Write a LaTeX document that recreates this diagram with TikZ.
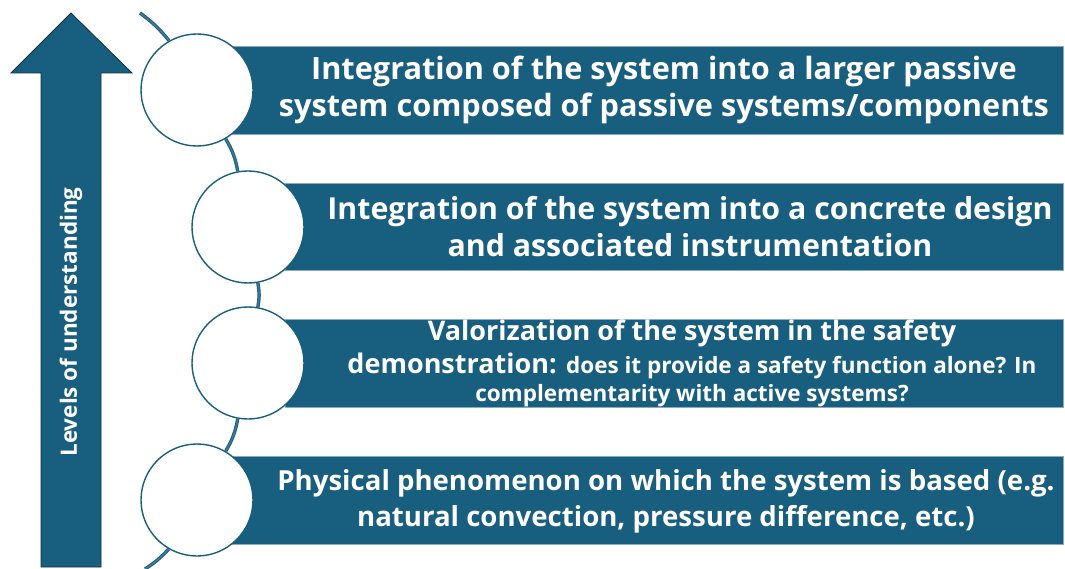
\documentclass[tikz,border=0pt]{standalone}
\usepackage{fontspec}
\setmainfont{Open Sans}
\definecolor{barblue}{RGB}{24,94,126}
\definecolor{edgeblue}{RGB}{14,48,66}
\definecolor{rimblue}{RGB}{140,170,190}
\definecolor{linkmid}{RGB}{70,120,150}
\begin{document}
\begin{tikzpicture}[x=1pt,y=-1pt,
  levelbar/.style={fill=barblue,draw=rimblue,line width=0.6pt},
  levelcircle/.style={circle,draw=barblue,fill=white,line width=1.4pt,minimum size=112pt,inner sep=0pt},
  bartext/.style={text=white,align=center,font=\fontsize{30.3}{37}\selectfont\bfseries},
  link/.style={draw=barblue,line width=1pt,double=linkmid,double distance=1.4pt}]
\useasboundingbox (0,0) rectangle (1065,569);

% upward arrow with its caption
\draw[fill=barblue,draw=edgeblue,line width=0.8pt]
  (41,567) -- (41,73) -- (11,73) -- (71,13) -- (132,73) -- (101,73) -- (101,567) -- cycle;
\node[rotate=90,text=white,font=\fontsize{22.5}{26}\selectfont\bfseries] (axis) at (71,322) {Levels of understanding};

% level bars
\path[levelbar] (230,46) rectangle (1063,134);
\path[levelbar] (285,183) rectangle (1063,270);
\path[levelbar] (285,319) rectangle (1063,407);
\path[levelbar] (230,456) rectangle (1063,544);

\node[bartext,font=\fontsize{30.7}{37}\selectfont\bfseries] (t1) at (664,90) {Integration of the system into a larger passive\\system composed of passive systems/components};
\node[bartext] (t2) at (690,227) {Integration of the system into a concrete design\\and associated instrumentation};
\node[bartext,font=\fontsize{27}{33}\selectfont\bfseries] (t3) at (692,363)
  {Valorization of the system in the safety\\
   demonstration: {\fontsize{22.5}{27}\selectfont does it provide a safety function alone? In}\\[-5pt]
   {\fontsize{22.5}{27}\selectfont complementarity with active systems?}};
\node[bartext,font=\fontsize{27.6}{36}\selectfont\bfseries] (t4) at (666,501) {Physical phenomenon on which the system is based (e.g.\\natural convection, pressure difference, etc.)};

% circles on the arc
\coordinate (top) at (140,13);
\coordinate (bot) at (145,569);
\node[levelcircle] (c1) at (197,90) {};
\node[levelcircle] (c2) at (248,227) {};
\node[levelcircle] (c3) at (248,363) {};
\node[levelcircle] (c4) at (197,500) {};

% connecting arc segments
\draw[link] (top) to[bend left=7] (c1);
\draw[link] (c1) to[bend left=10] (c2);
\draw[link] (c2) to[bend left=10] (c3);
\draw[link] (c3) to[bend left=10] (c4);
\draw[link] (c4) to[bend left=7] (bot);
\end{tikzpicture}
\end{document}
